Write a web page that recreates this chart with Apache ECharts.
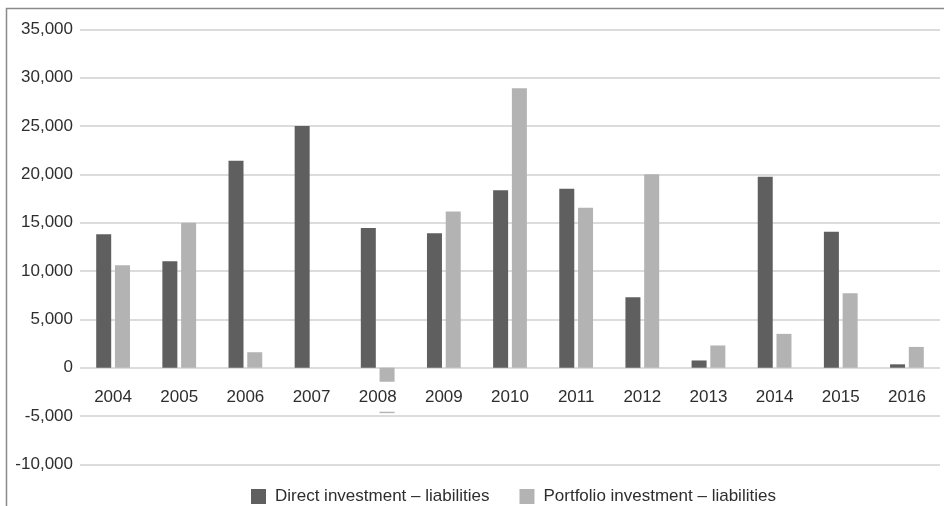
<!DOCTYPE html>
<html>
<head>
<meta charset="utf-8">
<script src="https://cdn.jsdelivr.net/npm/echarts@6/dist/echarts.min.js"></script>
<style>
  html, body { margin: 0; padding: 0; background: #ffffff; }
  #chart { width: 944px; height: 506px; }
</style>
</head>
<body>
<div id="chart"></div>
<script>
// Years shown along the category axis
const years = ['2004', '2005', '2006', '2007', '2008', '2009', '2010', '2011', '2012', '2013', '2014', '2015', '2016'];

// Inflows, liabilities side
const directInvestment = [13800, 11000, 21400, 25000, 14450, 13900, 18350, 18500, 7300, 750, 19750, 14050, 350];
const portfolioInvestment = [10600, 15000, 1600, 0, -4700, 16150, 28900, 16550, 20000, 2300, 3500, 7700, 2150];

const seriesNames = ['Direct investment \u2013 liabilities', 'Portfolio investment \u2013 liabilities'];

// Value axis range and step
const yMin = -10000;
const yMax = 35000;
const yStep = 5000;

const FONT = "'Liberation Sans', Arial, sans-serif";
const FONT_SIZE = 17;
const TEXT = '#2e2e2e';
const GRID_LINE = '#dcdcdc';

const CHART_H = 506;
const GRID_TOP = 29.3;
const GRID_BOTTOM = 41.6;
// Lift the category axis from the bottom edge up to the zero line
const plotH = CHART_H - GRID_TOP - GRID_BOTTOM;
const zeroLift = plotH * (0 - yMin) / (yMax - yMin);

const chart = echarts.init(document.getElementById('chart'), null, { renderer: 'canvas' });

chart.setOption({
  animation: false,
  backgroundColor: '#ffffff',
  textStyle: { fontFamily: FONT },
  grid: { left: 80, right: 4, top: GRID_TOP, bottom: GRID_BOTTOM, containLabel: false },
  graphic: [
    {
      type: 'polyline',
      z: 100,
      shape: { points: [[6.5, 506], [6.5, 8.5], [944, 8.5]] },
      style: { stroke: '#8a8a8a', lineWidth: 1.5, fill: null }
    }
  ],
  legend: {
    data: seriesNames,
    left: 246,
    top: 483,
    icon: 'rect',
    itemWidth: 15,
    itemHeight: 15,
    itemGap: 30,
    textStyle: { fontFamily: FONT, fontSize: FONT_SIZE, color: TEXT, padding: [0, 0, 0, 4] }
  },
  xAxis: {
    type: 'category',
    data: years,
    position: 'bottom',
    offset: -zeroLift,
    z: 5,
    axisLine: { show: false, onZero: false },
    axisTick: { show: false },
    splitLine: { show: false },
    axisLabel: {
      interval: 0,
      margin: 14,
      fontFamily: FONT,
      fontSize: FONT_SIZE,
      color: TEXT,
      backgroundColor: '#ffffff',
      padding: [7, 10, 6, 10]
    }
  },
  yAxis: {
    type: 'value',
    min: yMin,
    max: yMax,
    interval: yStep,
    axisLine: { show: false },
    axisTick: { show: false },
    splitLine: { lineStyle: { color: GRID_LINE, width: 2 } },
    axisLabel: {
      margin: 7,
      fontFamily: FONT,
      fontSize: FONT_SIZE,
      color: TEXT,
      formatter: v => v.toLocaleString('en-US')
    }
  },
  series: [
    {
      name: seriesNames[0],
      type: 'bar',
      data: directInvestment,
      barWidth: 15,
      barGap: '25%',
      itemStyle: { color: '#5f5f5f' }
    },
    {
      name: seriesNames[1],
      type: 'bar',
      data: portfolioInvestment,
      barWidth: 15,
      barGap: '25%',
      itemStyle: { color: '#b3b3b3' }
    }
  ]
});
</script>
</body>
</html>
